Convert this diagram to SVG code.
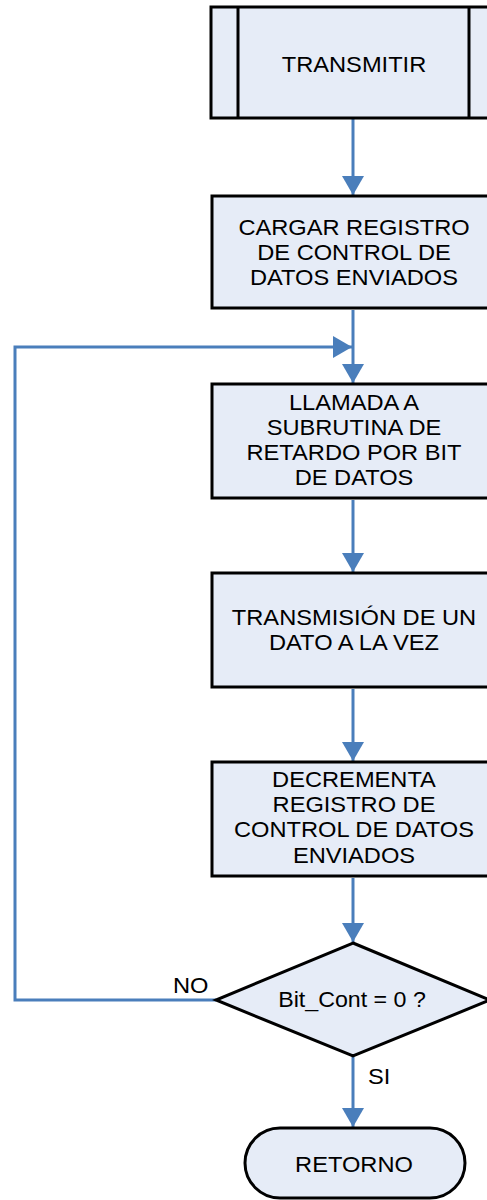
<svg xmlns="http://www.w3.org/2000/svg" width="487" height="1200" viewBox="0 0 487 1200">
<style>
.box{fill:#E6ECF7;stroke:#000;stroke-width:3}
.con{fill:none;stroke:#4A7EBB;stroke-width:3}
.t{font-family:"Liberation Sans",Arial,sans-serif;font-size:21.5px;fill:#000;text-anchor:middle}
.l{font-family:"Liberation Sans",Arial,sans-serif;font-size:21.5px;fill:#000}
</style>
<defs>
<marker id="ah" markerUnits="userSpaceOnUse" markerWidth="20" markerHeight="22" refX="19" refY="11" orient="auto">
<path d="M0,0 L19,11 L0,22 z" fill="#4A7EBB"/>
</marker>
</defs>
<g id="connectors">
<line class="con" x1="353" y1="119" x2="353" y2="195" marker-end="url(#ah)"/>
<line class="con" x1="353" y1="310" x2="353" y2="383" marker-end="url(#ah)"/>
<line class="con" x1="353" y1="500" x2="353" y2="572" marker-end="url(#ah)"/>
<line class="con" x1="353" y1="689" x2="353" y2="761" marker-end="url(#ah)"/>
<line class="con" x1="353" y1="878" x2="353" y2="942" marker-end="url(#ah)"/>
<line class="con" x1="353" y1="1057" x2="353" y2="1127" marker-end="url(#ah)"/>
<polyline class="con" points="216,1000 15,1000 15,347 352,347" marker-end="url(#ah)"/>
<text class="l" transform="translate(173,993) scale(1.1,1)">NO</text>
<text class="l" transform="translate(368,1084) scale(1.1,1)">SI</text>
</g>
<g id="n1">
<rect class="box" x="211" y="7" width="285" height="111"/>
<line x1="238" y1="7" x2="238" y2="118" stroke="#000" stroke-width="3"/>
<line x1="469" y1="7" x2="469" y2="118" stroke="#000" stroke-width="3"/>
<text class="t" transform="translate(354,72) scale(1.1,1)">TRANSMITIR</text>
</g>
<g id="n2">
<rect class="box" x="212" y="196" width="283" height="112"/>
<text class="t" transform="translate(354,235) scale(1.1,1)">CARGAR REGISTRO</text>
<text class="t" transform="translate(354,260) scale(1.1,1)">DE CONTROL DE</text>
<text class="t" transform="translate(354,285) scale(1.1,1)">DATOS ENVIADOS</text>
</g>
<g id="n3">
<rect class="box" x="212" y="384" width="283" height="114"/>
<text class="t" transform="translate(354,410) scale(1.1,1)">LLAMADA A</text>
<text class="t" transform="translate(354,435) scale(1.1,1)">SUBRUTINA DE</text>
<text class="t" transform="translate(354,460) scale(1.1,1)">RETARDO POR BIT</text>
<text class="t" transform="translate(354,485) scale(1.1,1)">DE DATOS</text>
</g>
<g id="n4">
<rect class="box" x="212" y="573" width="283" height="114"/>
<text class="t" transform="translate(354,625) scale(1.1,1)">TRANSMISIÓN DE UN</text>
<text class="t" transform="translate(354,650) scale(1.1,1)">DATO A LA VEZ</text>
</g>
<g id="n5">
<rect class="box" x="212" y="762" width="283" height="114"/>
<text class="t" transform="translate(354,787) scale(1.1,1)">DECREMENTA</text>
<text class="t" transform="translate(354,812) scale(1.1,1)">REGISTRO DE</text>
<text class="t" transform="translate(354,837) scale(1.1,1)">CONTROL DE DATOS</text>
<text class="t" transform="translate(354,863) scale(1.1,1)">ENVIADOS</text>
</g>
<g id="n6">
<polygon class="box" points="353,943 490,1000 353,1056 216,1000"/>
<text class="t" transform="translate(352,1007) scale(1.08,1)">Bit_Cont = 0 ?</text>
</g>
<g id="n7">
<rect class="box" x="245" y="1128" width="220" height="70" rx="35" ry="35"/>
<text class="t" transform="translate(354,1172) scale(1.1,1)">RETORNO</text>
</g>
</svg>
